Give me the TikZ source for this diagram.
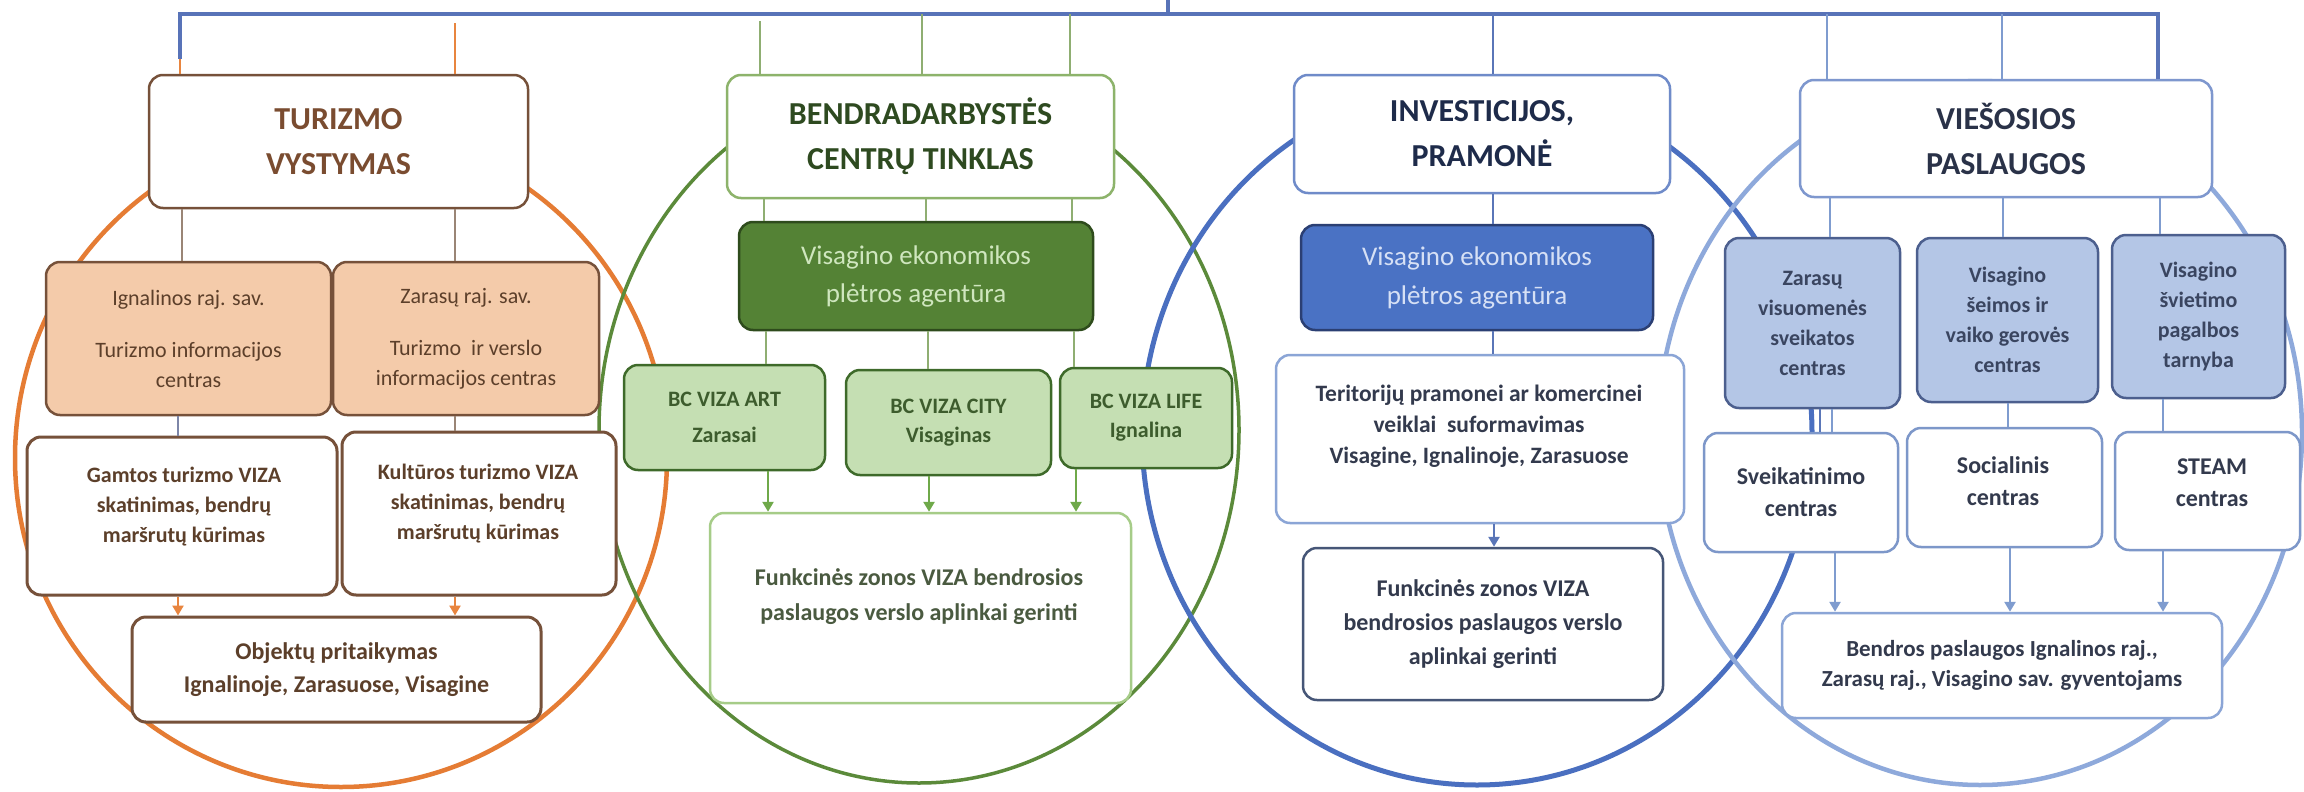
\documentclass[tikz,border=0pt]{standalone}
\usepackage{fontspec}
\setmainfont{Carlito}
\usetikzlibrary{arrows.meta}
\definecolor{barblue}{HTML}{5873B8}
\definecolor{ocirc}{HTML}{E57C34}
\definecolor{oarrow}{HTML}{E8853F}
\definecolor{tbrown}{HTML}{76513A}
\definecolor{turtext}{HTML}{7A4C30}
\definecolor{peach}{HTML}{F4CBAA}
\definecolor{btext}{HTML}{5C3F2A}
\definecolor{bgray}{HTML}{9A8576}
\definecolor{bblue}{HTML}{7D86A8}
\definecolor{gline}{HTML}{8FAE72}
\definecolor{gcirc}{HTML}{5B8A3A}
\definecolor{gborder}{HTML}{8DB36B}
\definecolor{gtext}{HTML}{2E4A20}
\definecolor{aggfill}{HTML}{548235}
\definecolor{aggborder}{HTML}{2E4B1C}
\definecolor{aggtext}{HTML}{CFE6BE}
\definecolor{bcfill}{HTML}{C5DFB3}
\definecolor{bcborder}{HTML}{3E6A2A}
\definecolor{bctext}{HTML}{3D5C2D}
\definecolor{fzgborder}{HTML}{A6CC88}
\definecolor{fzgtext}{HTML}{4A5A40}
\definecolor{garrow}{HTML}{6FA94A}
\definecolor{icirc}{HTML}{4A6FC0}
\definecolor{iborder}{HTML}{6F8BC9}
\definecolor{itext}{HTML}{1E2B4A}
\definecolor{agbfill}{HTML}{4A72C4}
\definecolor{agbborder}{HTML}{2B3F73}
\definecolor{agbtext}{HTML}{D6E0F5}
\definecolor{terborder}{HTML}{8BA5D6}
\definecolor{dtext}{HTML}{333A4D}
\definecolor{fzbborder}{HTML}{465677}
\definecolor{iline}{HTML}{5A76B8}
\definecolor{vcirc}{HTML}{8EA9DB}
\definecolor{vborder}{HTML}{7E97CE}
\definecolor{vtext}{HTML}{2A3248}
\definecolor{subfill}{HTML}{B4C6E6}
\definecolor{subborder}{HTML}{4C5F8E}
\definecolor{subtext}{HTML}{3A4560}
\definecolor{lvlborder}{HTML}{7D97C9}
\definecolor{vline}{HTML}{7F9CCF}
\tikzset{
  hdr/.style={draw, fill=white, rounded corners=14pt, line width=2.5pt, align=center, inner sep=0pt,
    font=\fontsize{32}{45}\selectfont\bfseries},
  boxbase/.style={rounded corners=14pt, line width=2.5pt, align=center, inner sep=0pt},
  peachbox/.style={boxbase, draw=tbrown, fill=peach, text=btext, font=\fontsize{22}{30}\selectfont},
  wbox/.style={boxbase, draw=tbrown, fill=white, line width=3pt},
  btxt/.style={align=center, inner sep=0pt, text=btext, font=\fontsize{22}{30}\selectfont\bfseries},
  aggbox/.style={boxbase, draw=aggborder, fill=aggfill, text=aggtext, font=\fontsize{27}{38}\selectfont},
  agbbox/.style={boxbase, draw=agbborder, fill=agbfill, text=agbtext, font=\fontsize{27}{39}\selectfont},
  bcbox/.style={boxbase, draw=bcborder, fill=bcfill, text=bctext},
  fzgbox/.style={boxbase, draw=fzgborder, fill=white},
  gtxt/.style={align=center, inner sep=0pt, text=fzgtext, font=\fontsize{24}{35}\selectfont\bfseries},
  terbox/.style={boxbase, draw=terborder, fill=white},
  dtxt/.style={align=center, inner sep=0pt, text=dtext, font=\fontsize{23.5}{31}\selectfont\bfseries},
  fzbbox/.style={boxbase, draw=fzbborder, fill=white, text=dtext, font=\fontsize{24}{34}\selectfont\bfseries},
  subbox/.style={boxbase, draw=subborder, fill=subfill, text=subtext, font=\fontsize{22}{30}\selectfont\bfseries},
  lvlbox/.style={boxbase, draw=lvlborder, fill=white, text=dtext, font=\fontsize{24}{32}\selectfont\bfseries},
  ltxt/.style={align=center, inner sep=0pt, text=dtext, font=\fontsize{24}{32}\selectfont\bfseries},
  barline/.style={draw=barblue, line width=4pt},
  oline/.style={draw=oarrow, line width=2.5pt},
  bgline/.style={draw=bgray, line width=2.5pt},
  bbline/.style={draw=bblue, line width=2.5pt},
  gln/.style={draw=gline, line width=2.5pt},
  iln/.style={draw=iline, line width=2.5pt},
  vln/.style={draw=vline, line width=2.5pt},
  tip/.style={-{Triangle[length=10pt,width=11pt]}},
}
\begin{document}
\begin{tikzpicture}[x=1pt,y=-1pt]
\useasboundingbox (0,0) rectangle (2304,792);
\fill[white] (0,0) rectangle (2304,792);

% big rings
\draw[ocirc, line width=4.5pt] (341,458) ellipse [x radius=326pt, y radius=329pt];
\draw[gcirc, line width=3.5pt] (919,430) ellipse [x radius=320pt, y radius=353pt];
\draw[icirc, line width=5pt] (1477,434) ellipse [x radius=335pt, y radius=351pt];
\draw[vcirc, line width=4.5pt] (1980,433) ellipse [x radius=322pt, y radius=352pt];

% headers
\node[hdr, draw=tbrown, text=turtext, minimum width=379pt, minimum height=133pt] (tur) at (338.5,141.5) {TURIZMO\\VYSTYMAS};
\node[hdr, draw=gborder, text=gtext, minimum width=387pt, minimum height=123pt] (ben) at (920.5,136.5) {BENDRADARBYSTĖS\\CENTRŲ TINKLAS};
\node[hdr, draw=iborder, text=itext, minimum width=376pt, minimum height=118pt] (inv) at (1482,134) {INVESTICIJOS,\\PRAMONĖ};
\node[hdr, draw=vborder, text=vtext, minimum width=412pt, minimum height=117pt] (vie) at (2006,138.5) {VIEŠOSIOS\\PASLAUGOS};

% top bar
\coordinate (root) at (1168,0);
\coordinate (barL) at (180,14);
\coordinate (barR) at (2158,14);
\draw[barline] ([yshift=15pt]tur.north -| barL) -- (barL) -- (barR) -- (vie.north -| barR);
\draw[barline] (root) -- (root |- barL);
\draw[oline] (tur.north -| barL) -- ([yshift=15pt]tur.north -| barL);
\draw[oline] (tur.north -| 455,0) -- ([yshift=51pt]tur.north -| 455,0);
\draw[gln] (ben.north -| 760,0) -- ([yshift=53pt]ben.north -| 760,0);
\draw[gln] (ben.north -| 922,0) -- (barL -| 922,0);
\draw[gln] (ben.north -| 1070,0) -- (barL -| 1070,0);
\draw[iln] (inv.north -| 1493,0) -- (barL -| 1493,0);
\draw[vln] (vie.north -| 1827,0) -- (barL -| 1827,0);
\draw[vln] (vie.north -| 2002,0) -- (barL -| 2002,0);

% orange column
\node[peachbox, minimum width=285pt, minimum height=153pt] (ign) at (188.5,338.5) {Ignalinos raj. sav.\\[22pt]Turizmo informacijos\\centras};
\node[peachbox, minimum width=266pt, minimum height=153pt] (zar) at (466,338.5) {Zarasų raj. sav.\\[22pt]Turizmo\ \ ir verslo\\informacijos centras};
\node[wbox, minimum width=310pt, minimum height=158pt] (gam) at (182,516) {};
\node[btxt] (gamt) at (184,507) {Gamtos turizmo VIZA\\skatinimas, bendrų\\maršrutų kūrimas};
\node[wbox, minimum width=274pt, minimum height=163pt] (kul) at (479,513.5) {};
\node[btxt] (kult) at (478,504) {Kultūros turizmo VIZA\\skatinimas, bendrų\\maršrutų kūrimas};
\node[wbox, text=btext, font=\fontsize{24}{33}\selectfont\bfseries, minimum width=409pt, minimum height=105pt] (obj) at (336.5,669.5) {Objektų pritaikymas\\Ignalinoje, Zarasuose, Visagine};
\draw[bgline] (tur.south -| 182,0) -- (ign.north -| 182,0);
\draw[bgline] (tur.south -| 455,0) -- (zar.north -| 455,0);
\draw[bbline] (ign.south -| 178,0) -- (gam.north -| 178,0);
\draw[bgline] (zar.south -| 455,0) -- (kul.north -| 455,0);
\draw[oline, tip] (gam.south -| 178,0) -- (obj.north -| 178,0);
\draw[oline, tip] (kul.south -| 455,0) -- (obj.north -| 455,0);

% green column
\node[aggbox, minimum width=354pt, minimum height=108pt] (agg) at (916,276) {Visagino ekonomikos\\plėtros agentūra};
\node[bcbox, font=\fontsize{22}{36}\selectfont\bfseries, minimum width=201pt, minimum height=105pt] (bca) at (724.5,417.5) {BC VIZA ART\\Zarasai};
\node[bcbox, font=\fontsize{22}{29}\selectfont\bfseries, minimum width=205pt, minimum height=105pt] (bcc) at (948.5,422.5) {BC VIZA CITY\\Visaginas};
\node[bcbox, font=\fontsize{22}{29}\selectfont\bfseries, minimum width=172pt, minimum height=100pt] (bcl) at (1146,418) {BC VIZA LIFE\\Ignalina};
\node[fzgbox, minimum width=421pt, minimum height=190pt] (fzg) at (920.5,608) {};
\node[gtxt] (fzgt) at (919,597) {Funkcinės zonos VIZA bendrosios\\paslaugos verslo aplinkai gerinti};
\draw[gln] (ben.south -| 764,0) -- (agg.north -| 764,0);
\draw[gln] (ben.south -| 926,0) -- (agg.north -| 926,0);
\draw[gln] (ben.south -| 1072,0) -- (agg.north -| 1072,0);
\draw[gln] (agg.south -| 766,0) -- (bca.north -| 766,0);
\draw[gln] (agg.south -| 928,0) -- (bcc.north -| 928,0);
\draw[gln] (agg.south -| 1074,0) -- (bcl.north -| 1074,0);
\draw[gln, draw=garrow, tip] (bca.south -| 768,0) -- (fzg.north -| 768,0);
\draw[gln, draw=garrow, tip] (bcc.south -| 929,0) -- (fzg.north -| 929,0);
\draw[gln, draw=garrow, tip] (bcl.south -| 1076,0) -- (fzg.north -| 1076,0);

% blue column
\node[agbbox, minimum width=352pt, minimum height=105pt] (agb) at (1477,277.5) {Visagino ekonomikos\\plėtros agentūra};
\node[terbox, minimum width=408pt, minimum height=168pt] (ter) at (1480,439) {};
\node[dtxt] (tert) at (1479,426) {Teritorijų pramonei ar komercinei\\veiklai\ \ suformavimas\\Visagine, Ignalinoje, Zarasuose};
\node[fzbbox, minimum width=360pt, minimum height=152pt] (fzb) at (1483,624) {Funkcinės zonos VIZA\\bendrosios paslaugos verslo\\aplinkai gerinti};
\draw[iln] (inv.south -| 1493,0) -- (agb.north -| 1493,0);
\draw[iln] (agb.south -| 1493,0) -- (ter.north -| 1493,0);
\draw[iln, tip] (ter.south -| 1494,0) -- (fzb.north -| 1494,0);

% light blue column
\node[subbox, minimum width=175pt, minimum height=170pt] (zvs) at (1812.5,323) {Zarasų\\visuomenės\\sveikatos\\centras};
\node[subbox, minimum width=181pt, minimum height=164pt] (vsv) at (2007.5,320) {Visagino\\šeimos ir\\vaiko gerovės\\centras};
\node[subbox, minimum width=173pt, minimum height=163pt] (vsp) at (2198.5,316.5) {Visagino\\švietimo\\pagalbos\\tarnyba};
\node[lvlbox, minimum width=194pt, minimum height=119pt] (sve) at (1801,492.5) {Sveikatinimo\\centras};
\node[lvlbox, minimum width=195pt, minimum height=119pt] (soc) at (2004.5,487.5) {};
\node[ltxt] (soct) at (2003,481) {Socialinis\\centras};
\node[lvlbox, minimum width=185pt, minimum height=118pt] (ste) at (2207.5,491) {};
\node[ltxt] (stet) at (2212,483) {STEAM\\centras};
\node[lvlbox, draw=terborder, font=\fontsize{23}{30}\selectfont\bfseries, minimum width=440pt, minimum height=105pt] (bnd) at (2002,665.5) {Bendros paslaugos Ignalinos raj.,\\Zarasų raj., Visagino sav. gyventojams};
\draw[vln] (vie.south -| 1830,0) -- (zvs.north -| 1830,0);
\draw[vln] (vie.south -| 2003,0) -- (vsv.north -| 2003,0);
\draw[vln] (vie.south -| 2160,0) -- (vsp.north -| 2160,0);
\draw[iln] (zvs.south -| 1820,0) -- (sve.north -| 1820,0);
\draw[vln] (zvs.south -| 1832,0) -- (sve.north -| 1832,0);
\draw[vln] (vsv.south -| 2008,0) -- (soc.north -| 2008,0);
\draw[vln] (vsp.south -| 2163,0) -- (ste.north -| 2163,0);
\draw[vln, tip] (sve.south -| 1835,0) -- (bnd.north -| 1835,0);
\draw[vln, tip] (soc.south -| 2010,0) -- (bnd.north -| 2010,0);
\draw[vln, tip] (ste.south -| 2163,0) -- (bnd.north -| 2163,0);
\end{tikzpicture}
\end{document}
